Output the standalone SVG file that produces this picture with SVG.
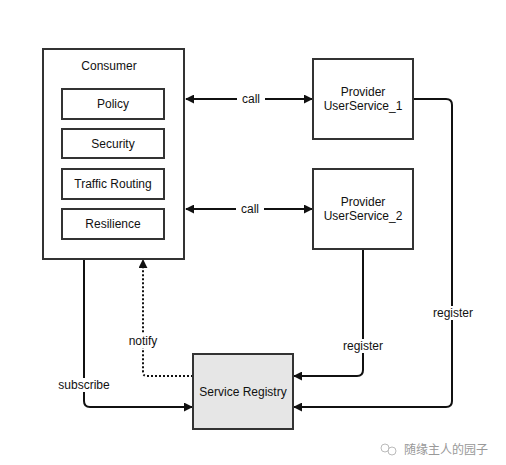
<svg xmlns="http://www.w3.org/2000/svg" width="506" height="465" viewBox="0 0 506 465">
<style>
.box{fill:#fff;stroke:#333;stroke-width:2}
.reg{fill:#e6e6e6;stroke:#333;stroke-width:2}
.t{font-family:"Liberation Sans",Arial,sans-serif;font-size:12px;fill:#111;text-anchor:middle;dominant-baseline:central}
.ln{fill:none;stroke:#111;stroke-width:2}
.dot{fill:none;stroke:#111;stroke-width:2;stroke-dasharray:2 2}
.bg{fill:#fff}
.wm{font-family:"Noto Sans CJK SC",sans-serif;font-size:12px;fill:#999}
</style>
<defs>
<marker id="ah" viewBox="0 0 10 10" refX="9" refY="5" markerWidth="9" markerHeight="9" markerUnits="userSpaceOnUse" orient="auto-start-reverse">
<path d="M0,0 L10,5 L0,10 Z" fill="#111"/>
</marker>
</defs>
<rect width="506" height="465" fill="#fff"/>
<g id="connectors">
<path class="ln" d="M186,99 H312" marker-start="url(#ah)" marker-end="url(#ah)"/>
<path class="ln" d="M186,209 H312" marker-start="url(#ah)" marker-end="url(#ah)"/>
<path class="ln" d="M413,99 H446 Q452,99 452,105 V401 Q452,407 446,407 H294" marker-end="url(#ah)"/>
<path class="ln" d="M363,250 V370 Q363,376 357,376 H294" marker-end="url(#ah)"/>
<path class="ln" d="M84,259 V401 Q84,407 90,407 H192" marker-end="url(#ah)"/>
<path class="dot" d="M193,376 H147 Q143,376 143,372 V260" marker-end="url(#ah)"/>
<rect class="bg" x="237" y="92" width="28" height="14"/>
<text class="t" x="251" y="99">call</text>
<rect class="bg" x="236" y="202" width="28" height="14"/>
<text class="t" x="250" y="209">call</text>
<rect class="bg" x="431" y="306" width="44" height="14"/>
<text class="t" x="453" y="313">register</text>
<rect class="bg" x="341" y="339" width="44" height="14"/>
<text class="t" x="363" y="346">register</text>
<rect class="bg" x="57" y="378" width="54" height="14"/>
<text class="t" x="84" y="385">subscribe</text>
<rect class="bg" x="127" y="334" width="32" height="14"/>
<text class="t" x="143" y="341">notify</text>
</g>
<g id="consumer">
<rect class="box" x="43" y="49" width="141" height="210"/>
<text class="t" x="109" y="66">Consumer</text>
</g>
<g id="policy">
<rect class="box" x="62" y="89" width="102" height="30"/>
<text class="t" x="113" y="104">Policy</text>
</g>
<g id="security">
<rect class="box" x="62" y="129" width="102" height="29"/>
<text class="t" x="113" y="144">Security</text>
</g>
<g id="traffic">
<rect class="box" x="62" y="169" width="102" height="30"/>
<text class="t" x="113" y="184">Traffic Routing</text>
</g>
<g id="resilience">
<rect class="box" x="62" y="209" width="102" height="30"/>
<text class="t" x="113" y="224">Resilience</text>
</g>
<g id="provider1">
<rect class="box" x="313" y="59" width="100" height="80"/>
<text class="t" x="363" y="92">Provider</text>
<text class="t" x="363" y="106">UserService_1</text>
</g>
<g id="provider2">
<rect class="box" x="313" y="169" width="100" height="80"/>
<text class="t" x="363" y="202">Provider</text>
<text class="t" x="363" y="216">UserService_2</text>
</g>
<g id="registry">
<rect class="reg" x="193" y="354" width="100" height="75"/>
<text class="t" x="243" y="392">Service Registry</text>
</g>
<g id="watermark">
<circle cx="385" cy="448" r="4" fill="none" stroke="#bbb" stroke-width="1"/>
<circle cx="392" cy="451" r="4" fill="none" stroke="#bbb" stroke-width="1"/>
<text class="wm" x="404" y="454">随缘主人的园子</text>
</g>
</svg>
